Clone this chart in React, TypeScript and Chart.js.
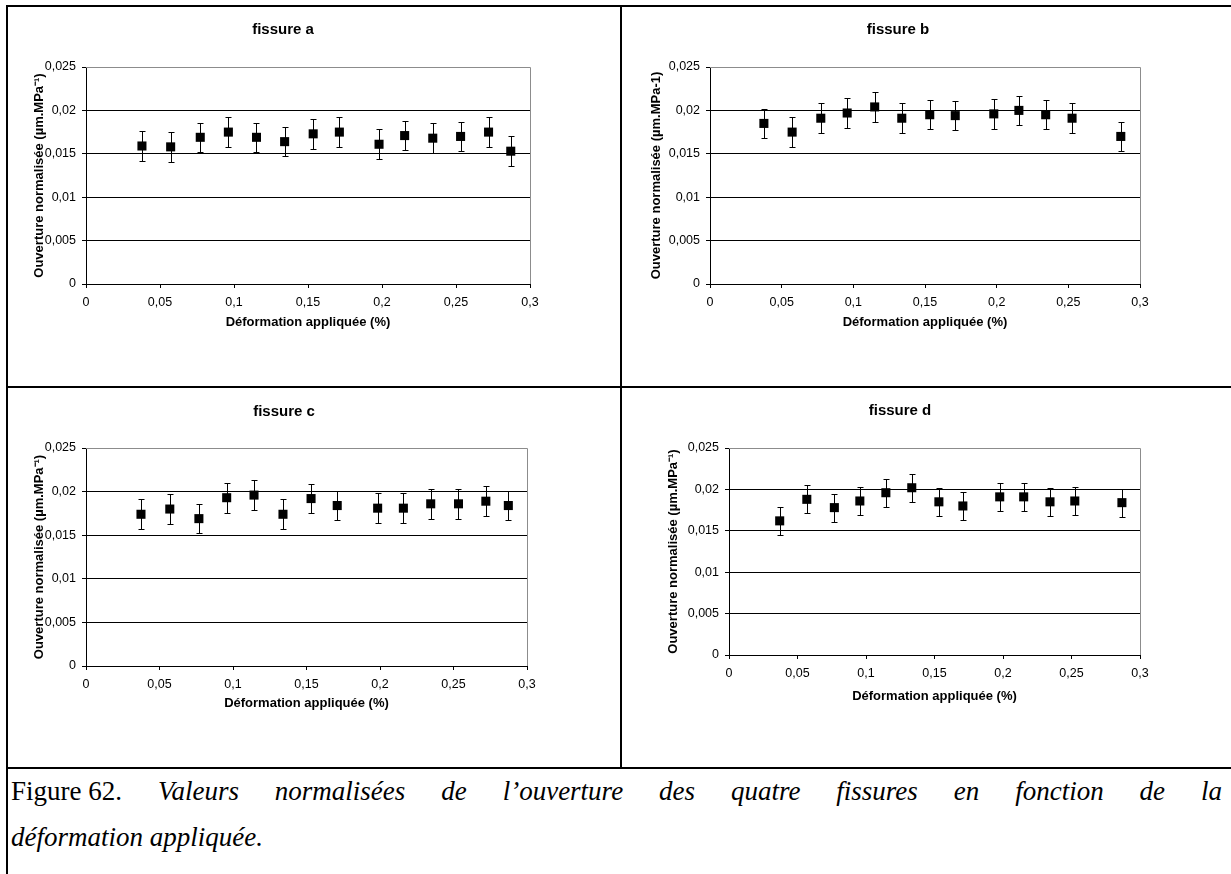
import React, { useEffect, useRef } from "react";
import { Chart, registerables } from "chart.js";

Chart.register(...registerables);

// ---------- data ----------
const deformationA = [0.0378, 0.0572, 0.0772, 0.0962, 0.1152, 0.1342, 0.1535, 0.1712, 0.198, 0.2153, 0.2343, 0.2531, 0.272, 0.287];
const ouvertureA = [0.0159, 0.0158, 0.0169, 0.0175, 0.0169, 0.0164, 0.0173, 0.0175, 0.0161, 0.0171, 0.0168, 0.017, 0.0175, 0.0153];
const erreurA = [0.0017, 0.0017, 0.0017, 0.0017, 0.0017, 0.0017, 0.0017, 0.0017, 0.0017, 0.0017, 0.0017, 0.0017, 0.0017, 0.0017];

const deformationB = [0.0376, 0.0573, 0.0773, 0.0957, 0.1149, 0.1338, 0.1533, 0.1711, 0.198, 0.2155, 0.2342, 0.2526, 0.2866];
const ouvertureB = [0.0185, 0.0175, 0.0191, 0.0197, 0.0204, 0.0191, 0.0195, 0.0194, 0.0196, 0.02, 0.0195, 0.0191, 0.017];
const erreurB = [0.0017, 0.0017, 0.0017, 0.0017, 0.0017, 0.0017, 0.0017, 0.0017, 0.0017, 0.0017, 0.0017, 0.0017, 0.0017];

const deformationC = [0.0374, 0.057, 0.0768, 0.0957, 0.1143, 0.134, 0.1531, 0.1709, 0.1984, 0.2159, 0.2345, 0.2534, 0.272, 0.2873];
const ouvertureC = [0.0174, 0.018, 0.0169, 0.0193, 0.0196, 0.0174, 0.0192, 0.0184, 0.0181, 0.0181, 0.0186, 0.0186, 0.0189, 0.0184];
const erreurC = [0.0017, 0.0017, 0.0017, 0.0017, 0.0017, 0.0017, 0.0017, 0.0017, 0.0017, 0.0017, 0.0017, 0.0017, 0.0017, 0.0017];

const deformationD = [0.037, 0.0568, 0.0769, 0.0955, 0.1145, 0.1334, 0.1532, 0.1707, 0.1976, 0.2151, 0.2343, 0.2524, 0.2868];
const ouvertureD = [0.0162, 0.0188, 0.0178, 0.0186, 0.0196, 0.0202, 0.0185, 0.018, 0.0191, 0.0191, 0.0185, 0.0186, 0.0184];
const erreurD = [0.0017, 0.0017, 0.0017, 0.0017, 0.0017, 0.0017, 0.0017, 0.0017, 0.0017, 0.0017, 0.0017, 0.0017, 0.0017];

const yTickValues = [0, 0.005, 0.01, 0.015, 0.02, 0.025];
const xTickValues = [0, 0.05, 0.1, 0.15, 0.2, 0.25, 0.3];

const panelTitles = ["fissure a", "fissure b", "fissure c", "fissure d"];
const yAxisTitleSup = "Ouverture normalisée (µm.MPa⁻¹)";
const yAxisTitlePlain = "Ouverture normalisée (µm.MPa-1)";
const xAxisTitle = "Déformation appliquée (%)";

const captionLabel = "Figure 62.";
const captionLine1 = "Valeurs normalisées de l’ouverture des quatre fissures en fonction de la";
const captionLine2 = "déformation appliquée.";

// ---------- layout ----------
type Spec = {
  title: string;
  yTitle: string;
  xs: number[];
  ys: number[];
  errs: number[];
  cx: number; cy: number; cw: number; ch: number; // canvas box (page coords)
  L: number; R: number; T: number; B: number; // plot area (page coords)
  ytx: number; // y-axis title centre x
  xty: number; // x-axis title centre y
  tx: number; ty: number; // chart title centre
};

const panels: Spec[] = [
  { title: panelTitles[0], yTitle: yAxisTitleSup, xs: deformationA, ys: ouvertureA, errs: erreurA,
    cx: 8, cy: 7, cw: 612, ch: 379, L: 86, R: 530, T: 67, B: 284, ytx: 39, xty: 322, tx: 283, ty: 30 },
  { title: panelTitles[1], yTitle: yAxisTitlePlain, xs: deformationB, ys: ouvertureB, errs: erreurB,
    cx: 622, cy: 7, cw: 609, ch: 379, L: 710, R: 1140, T: 67, B: 284, ytx: 656, xty: 322, tx: 898, ty: 30 },
  { title: panelTitles[2], yTitle: yAxisTitleSup, xs: deformationC, ys: ouvertureC, errs: erreurC,
    cx: 8, cy: 388, cw: 612, ch: 379, L: 86, R: 527, T: 448, B: 666, ytx: 39, xty: 703, tx: 284, ty: 412 },
  { title: panelTitles[3], yTitle: yAxisTitleSup, xs: deformationD, ys: ouvertureD, errs: erreurD,
    cx: 622, cy: 388, cw: 609, ch: 379, L: 729, R: 1140, T: 448, B: 655, ytx: 673, xty: 696, tx: 900, ty: 411 },
];

const SANS = "'Liberation Sans', Arial, sans-serif";
const fmt = (v: number) => String(Number(v.toFixed(4))).replace(".", ",");

const extrasPlugin = {
  id: "panelExtras",
  beforeDatasetsDraw(chart: any) {
    const { ctx, chartArea: a, scales } = chart;
    const x = scales.x, y = scales.y;
    ctx.save();
    // grey frame (top and right)
    ctx.strokeStyle = "#8c8c8c";
    ctx.lineWidth = 1;
    ctx.beginPath();
    const top = Math.round(a.top) + 0.5;
    const right = Math.round(a.right) + 0.5;
    ctx.moveTo(Math.round(a.left), top);
    ctx.lineTo(right, top);
    ctx.lineTo(right, Math.round(a.bottom));
    ctx.stroke();
    // error bars
    ctx.strokeStyle = "#000";
    chart.data.datasets.forEach((ds: any) => {
      const errs: number[] = ds.errors || [];
      ds.data.forEach((pt: any, i: number) => {
        const e = errs[i] || 0;
        const px = Math.round(x.getPixelForValue(pt.x)) + 0.5;
        const yt = Math.round(y.getPixelForValue(pt.y + e)) + 0.5;
        const yb = Math.round(y.getPixelForValue(pt.y - e)) + 0.5;
        ctx.beginPath();
        ctx.moveTo(px, yt);
        ctx.lineTo(px, yb);
        ctx.moveTo(px - 3, yt);
        ctx.lineTo(px + 3, yt);
        ctx.moveTo(px - 3, yb);
        ctx.lineTo(px + 3, yb);
        ctx.stroke();
      });
    });
    ctx.restore();
  },
  afterDraw(chart: any, _args: any, opts: any) {
    const { ctx } = chart;
    ctx.save();
    ctx.font = `bold 15px ${SANS}`;
    ctx.fillStyle = "#000";
    ctx.textAlign = "center";
    ctx.textBaseline = "middle";
    ctx.fillText(opts.text, opts.x, opts.y);
    ctx.restore();
  },
};

function buildConfig(s: Spec): any {
  const plotL = s.L - s.cx, plotR = s.R - s.cx, plotT = s.T - s.cy, plotB = s.B - s.cy;
  const titleSize = 13;
  const lh = titleSize * 1.2;
  const padLeft = s.ytx - s.cx - lh / 2;
  const yWidth = plotL - padLeft;
  const xHeight = s.xty - s.cy + lh / 2 - plotB;
  const padBottom = s.ch - plotB - xHeight;
  const padRight = s.cw - plotR;
  const tickFont = { family: SANS, size: 12.5 };
  const titleFont = { family: SANS, size: titleSize, weight: "bold", lineHeight: 1.2 };
  return {
    type: "scatter",
    data: {
      datasets: [
        {
          data: s.xs.map((v, i) => ({ x: v, y: s.ys[i] })),
          errors: s.errs,
          pointStyle: "rect",
          pointRadius: 6.4,
          pointHoverRadius: 6.4,
          borderWidth: 0,
          backgroundColor: "#000",
          borderColor: "#000",
          showLine: false,
        },
      ],
    },
    options: {
      animation: false,
      responsive: false,
      maintainAspectRatio: false,
      devicePixelRatio: 1,
      events: [],
      layout: { padding: { left: padLeft, top: plotT, right: padRight, bottom: padBottom } },
      plugins: {
        legend: { display: false },
        title: { display: false },
        tooltip: { enabled: false },
        panelExtras: { text: s.title, x: s.tx - s.cx, y: s.ty - s.cy },
      },
      scales: {
        x: {
          type: "linear",
          min: 0,
          max: 0.3,
          afterBuildTicks: (sc: any) => { sc.ticks = xTickValues.map((v) => ({ value: v })); },
          afterFit: (sc: any) => { sc.height = xHeight; },
          ticks: { font: tickFont, color: "#000", padding: 7.5, autoSkip: false, maxRotation: 0, callback: (v: number) => fmt(v) },
          grid: { drawOnChartArea: false, drawTicks: true, tickLength: 4, color: "#000", tickColor: "#000", lineWidth: 1 },
          border: { display: true, color: "#000", width: 1 },
          title: { display: true, text: xAxisTitle, font: titleFont, color: "#000", padding: 0 },
        },
        y: {
          type: "linear",
          min: 0,
          max: 0.025,
          afterBuildTicks: (sc: any) => { sc.ticks = yTickValues.map((v) => ({ value: v })); },
          afterFit: (sc: any) => { sc.width = yWidth; },
          ticks: { font: tickFont, color: "#000", padding: 6, callback: (v: number) => fmt(v) },
          grid: {
            drawOnChartArea: true,
            drawTicks: true,
            tickLength: 4,
            color: (c: any) => (c.tick && Math.abs(c.tick.value - 0.025) < 1e-9 ? "rgba(0,0,0,0)" : "#000"),
            tickColor: "#000",
            lineWidth: 1,
          },
          border: { display: true, color: "#000", width: 1 },
          title: { display: true, text: s.yTitle, font: titleFont, color: "#000", padding: 0 },
        },
      },
    },
    plugins: [extrasPlugin],
  };
}

function Panel({ spec }: { spec: Spec }) {
  const ref = useRef<HTMLCanvasElement>(null);
  useEffect(() => {
    if (!ref.current) return;
    const chart = new Chart(ref.current, buildConfig(spec));
    return () => chart.destroy();
  }, [spec]);
  return (
    <canvas
      ref={ref}
      width={spec.cw}
      height={spec.ch}
      style={{ position: "absolute", left: spec.cx, top: spec.cy, width: spec.cw, height: spec.ch }}
    />
  );
}

const line = (left: number, top: number, width: number, height: number) => (
  <div style={{ position: "absolute", left, top, width, height, background: "#000" }} />
);

export default function App() {
  return (
    <div
      style={{
        position: "absolute",
        left: 0,
        top: 0,
        width: 1231,
        height: 874,
        background: "#fff",
        overflow: "hidden",
      }}
    >
      {line(6, 5, 1225, 2)}
      {line(6, 5, 2, 869)}
      {line(620, 5, 2, 764)}
      {line(6, 386, 1225, 2)}
      {line(6, 767, 1225, 2)}
      {panels.map((p, i) => (
        <Panel key={i} spec={p} />
      ))}
      <div
        style={{
          position: "absolute",
          left: 11,
          top: 768,
          width: 1211,
          fontFamily: "'Liberation Serif', 'Times New Roman', serif",
          fontSize: 27,
          lineHeight: "46px",
          color: "#000",
        }}
      >
        <div style={{ textAlign: "justify", textAlignLast: "justify" as any }}>
          <span style={{ display: "inline-block" }}>{captionLabel}</span> <i>{captionLine1}</i>
        </div>
        <div>
          <i>{captionLine2}</i>
        </div>
      </div>
    </div>
  );
}
